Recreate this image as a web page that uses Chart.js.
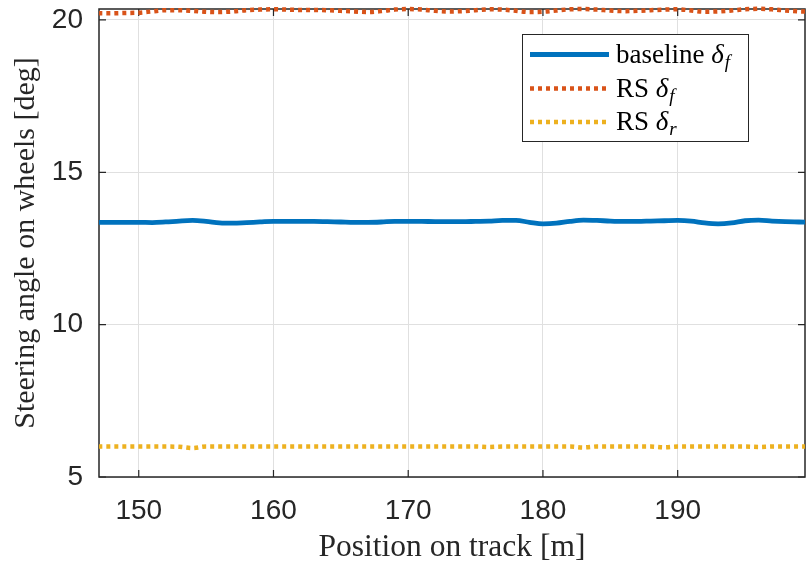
<!DOCTYPE html>
<html>
<head>
<meta charset="utf-8">
<script src="https://cdn.jsdelivr.net/npm/chart.js@4/dist/chart.umd.min.js"></script>
<style>
  html, body { margin: 0; padding: 0; background: #ffffff; }
  #wrap { width: 806px; height: 570px; }
</style>
</head>
<body>
<div id="wrap"><canvas id="c" width="806" height="570"></canvas></div>
<script>
// Position along the track [m]
const positions = [147,148,149,150,151,152,153,154,155,156,157,158,159,160,161,162,163,164,165,166,167,168,169,170,171,172,173,174,175,176,177,178,179,180,181,182,183,184,185,186,187,188,189,190,191,192,193,194,195,196,197,198,199,200];

// Front wheel steering angle, baseline controller [deg]
const baselineDeltaF = [13.36,13.36,13.36,13.36,13.35,13.37,13.40,13.42,13.39,13.34,13.33,13.35,13.37,13.39,13.39,13.39,13.39,13.38,13.37,13.36,13.36,13.37,13.39,13.39,13.39,13.38,13.38,13.38,13.39,13.40,13.42,13.42,13.36,13.31,13.33,13.39,13.43,13.42,13.40,13.39,13.39,13.40,13.41,13.42,13.40,13.34,13.31,13.34,13.41,13.43,13.40,13.38,13.37,13.36];

// Front wheel steering angle, RS [deg]
const rsDeltaF = [20.22,20.22,20.23,20.24,20.28,20.32,20.32,20.30,20.27,20.26,20.28,20.32,20.34,20.35,20.34,20.33,20.33,20.32,20.30,20.28,20.26,20.29,20.34,20.36,20.34,20.30,20.28,20.29,20.32,20.35,20.34,20.30,20.26,20.27,20.31,20.35,20.36,20.34,20.31,20.29,20.30,20.32,20.34,20.35,20.31,20.27,20.28,20.31,20.35,20.37,20.35,20.31,20.28,20.27];

// Rear wheel steering angle, RS [deg]
const rsDeltaR = [6.00,6.00,6.00,6.00,6.00,6.00,5.99,5.95,6.00,6.00,6.00,6.00,6.00,6.00,6.00,6.00,6.00,6.00,6.00,6.00,6.00,6.00,6.00,6.00,6.00,6.00,6.00,6.00,6.00,5.985,6.00,6.00,6.00,6.00,6.00,6.00,5.97,6.00,6.00,6.00,6.00,6.00,5.975,6.00,6.00,6.00,6.00,6.00,6.00,5.985,6.00,6.00,6.00,6.00];

const xTicks = [150, 160, 170, 180, 190];
const yTicks = [5, 10, 15, 20];
const xRange = [147.05, 199.45];
const yRange = [5, 20.36];

const seriesNames = ['baseline', 'RS', 'RS'];
const seriesSubscripts = ['f', 'f', 'r'];

const AXIS_COLOR = '#262626';

function toPoints(values) {
  return positions.map((p, i) => ({ x: p, y: values[i] }));
}

// Box around the plot area with inward tick marks on all four sides
const framePlugin = {
  id: 'frame',
  beforeDatasetsDraw(chart) {
    const { ctx, chartArea: a, scales } = chart;
    const len = 7;
    ctx.save();
    ctx.strokeStyle = AXIS_COLOR;
    ctx.lineWidth = 1.5;
    ctx.strokeRect(a.left, a.top, a.right - a.left, a.bottom - a.top);
    ctx.lineWidth = 1.2;
    ctx.beginPath();
    xTicks.forEach(v => {
      const px = scales.x.getPixelForValue(v);
      ctx.moveTo(px, a.bottom); ctx.lineTo(px, a.bottom - len);
      ctx.moveTo(px, a.top); ctx.lineTo(px, a.top + len);
    });
    yTicks.forEach(v => {
      const py = scales.y.getPixelForValue(v);
      ctx.moveTo(a.left, py); ctx.lineTo(a.left + len, py);
      ctx.moveTo(a.right, py); ctx.lineTo(a.right - len, py);
    });
    ctx.stroke();
    ctx.restore();
  }
};

// Legend box with math-style labels (delta with subscript)
const legendPlugin = {
  id: 'mathLegend',
  afterDatasetsDraw(chart) {
    const { ctx } = chart;
    const box = { x: 522, y: 34, w: 226, h: 107 };
    const rows = [54.5, 88.5, 122];
    ctx.save();
    ctx.fillStyle = '#ffffff';
    ctx.fillRect(box.x, box.y, box.w, box.h);
    ctx.strokeStyle = AXIS_COLOR;
    ctx.lineWidth = 1;
    ctx.strokeRect(box.x + 0.5, box.y + 0.5, box.w, box.h);
    chart.data.datasets.forEach((ds, i) => {
      const y = rows[i];
      ctx.save();
      ctx.strokeStyle = ds.borderColor;
      ctx.lineWidth = ds.borderWidth;
      ctx.setLineDash(ds.borderDash || []);
      ctx.lineCap = 'butt';
      ctx.beginPath();
      ctx.moveTo(530, y);
      ctx.lineTo(609, y);
      ctx.stroke();
      ctx.restore();

      let x = 616;
      const base = y + 8;
      ctx.fillStyle = '#000000';
      ctx.textBaseline = 'alphabetic';
      ctx.font = '27px "Liberation Serif"';
      const name = seriesNames[i] + ' ';
      ctx.fillText(name, x, base);
      x += ctx.measureText(name).width;
      ctx.font = 'italic 27px "Liberation Serif"';
      ctx.fillText('δ', x, base);
      x += ctx.measureText('δ').width + 1;
      ctx.font = 'italic 19px "Liberation Serif"';
      ctx.fillText(seriesSubscripts[i], x, base + 5);
    });
    ctx.restore();
  }
};

const chart = new Chart(document.getElementById('c'), {
  type: 'line',
  data: {
    datasets: [
      {
        label: 'baseline δf',
        data: toPoints(baselineDeltaF),
        borderColor: '#0072BD',
        borderWidth: 4.8,
        pointRadius: 0,
        cubicInterpolationMode: 'monotone',
        clip: { left: 0, right: 0, top: 5, bottom: 0 }
      },
      {
        label: 'RS δf',
        data: toPoints(rsDeltaF),
        borderColor: '#D95319',
        borderWidth: 4.5,
        borderDash: [4, 4],
        borderCapStyle: 'butt',
        pointRadius: 0,
        cubicInterpolationMode: 'monotone',
        clip: { left: 0, right: 0, top: 5, bottom: 0 }
      },
      {
        label: 'RS δr',
        data: toPoints(rsDeltaR),
        borderColor: '#EDB120',
        borderWidth: 4.5,
        borderDash: [4, 4],
        borderCapStyle: 'butt',
        pointRadius: 0,
        cubicInterpolationMode: 'monotone',
        clip: { left: 0, right: 0, top: 5, bottom: 0 }
      }
    ]
  },
  options: {
    responsive: false,
    animation: false,
    devicePixelRatio: 1,
    layout: { padding: { top: 9, right: 1, left: 0, bottom: 0 } },
    plugins: {
      legend: { display: false },
      tooltip: { enabled: false }
    },
    scales: {
      x: {
        type: 'linear',
        min: xRange[0],
        max: xRange[1],
        afterBuildTicks(scale) { scale.ticks = xTicks.map(v => ({ value: v })); },
        afterFit(scale) {
          scale.height = 93;
          scale.paddingLeft = 0;
          scale.paddingRight = 0;
        },
        grid: { color: '#e0e0e0', lineWidth: 1, drawTicks: false },
        border: { display: false },
        ticks: {
          padding: 17,
          color: AXIS_COLOR,
          font: { family: '"Liberation Sans", Arial, sans-serif', size: 28 },
          maxRotation: 0
        },
        title: {
          display: true,
          text: 'Position on track [m]',
          color: AXIS_COLOR,
          font: { family: '"Liberation Serif", serif', size: 31.5 },
          padding: { top: 0, bottom: 3 }
        }
      },
      y: {
        type: 'linear',
        min: yRange[0],
        max: yRange[1],
        afterBuildTicks(scale) { scale.ticks = yTicks.map(v => ({ value: v })); },
        afterFit(scale) {
          scale.width = 99;
          scale.paddingTop = 0;
          scale.paddingBottom = 0;
        },
        grid: { color: '#e0e0e0', lineWidth: 1, drawTicks: false },
        border: { display: false },
        ticks: {
          padding: 16,
          color: AXIS_COLOR,
          font: { family: '"Liberation Sans", Arial, sans-serif', size: 28 }
        },
        title: {
          display: true,
          text: 'Steering angle on wheels [deg]',
          color: AXIS_COLOR,
          font: { family: '"Liberation Serif", serif', size: 30 },
          padding: { top: 8, bottom: 0 }
        }
      }
    }
  },
  plugins: [framePlugin, legendPlugin]
});
</script>
</body>
</html>
